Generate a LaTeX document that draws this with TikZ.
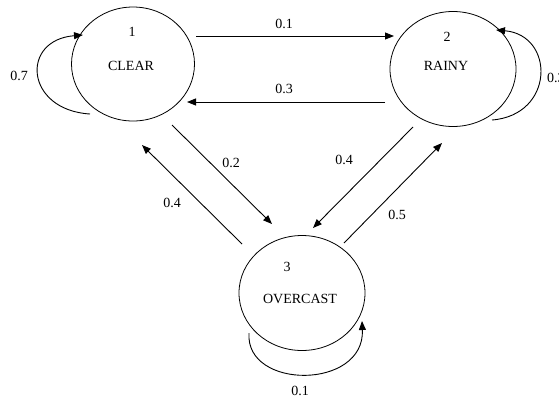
\documentclass[tikz,border=0pt]{standalone}
\usepackage{fontspec}
\setmainfont{Liberation Serif}
\usetikzlibrary{shapes.geometric,arrows.meta}
\tikzset{
  state/.style={draw, ellipse, inner sep=0pt, line width=0.8pt},
  lbl/.style={font=\fontsize{14}{16}\selectfont, inner sep=0pt},
  conn/.style={line width=0.9pt, -{Triangle[length=9pt,width=7pt]}}
}
\begin{document}
\begin{tikzpicture}[x=1pt,y=-1pt]
\useasboundingbox (0,0) rectangle (559,400);
% states
\node[state, minimum width=123pt, minimum height=114pt] (c1) at (133,64) {};
\node[state, minimum width=126pt, minimum height=115pt] (c2) at (453,69) {};
\node[state, minimum width=126pt, minimum height=115pt] (c3) at (302,293) {};
\node[lbl] (n1) at (132,32) {1};
\node[lbl] (t1) at (131,66) {CLEAR};
\node[lbl] (n2) at (447,37) {2};
\node[lbl] (t2) at (446,66) {RAINY};
\node[lbl] (n3) at (287,267) {3};
\node[lbl] (t3) at (300,299) {OVERCAST};
% endpoints
\coordinate (a12s) at (196,36);  \coordinate (a12e) at (394,36);
\coordinate (a21s) at (385,102); \coordinate (a21e) at (187,102);
\coordinate (a13s) at (172,125); \coordinate (a13e) at (272,224);
\coordinate (a31s) at (242,244); \coordinate (a31e) at (142,145);
\coordinate (a23s) at (413,127); \coordinate (a23e) at (313,228);
\coordinate (a32s) at (344,243); \coordinate (a32e) at (442,143);
\coordinate (l1s) at (90,114);   \coordinate (l1e) at (83,35);
\coordinate (l2s) at (492,120);  \coordinate (l2e) at (496,30);
\coordinate (l3s) at (249,333);  \coordinate (l3e) at (362,321);
% connectors
\draw[conn] (a12s) -- (a12e);
\draw[conn] (a21s) -- (a21e);
\draw[conn] (a13s) -- (a13e);
\draw[conn] (a31s) -- (a31e);
\draw[conn] (a23s) -- (a23e);
\draw[conn] (a32s) -- (a32e);
\draw[conn] (l1s) .. controls (25,110) and (20,40) .. (l1e);
\draw[conn] (l2s) .. controls (555,115) and (555,35) .. (l2e);
\draw[conn] (l3s) .. controls (245,390) and (365,390) .. (l3e);
% labels
\node[lbl] (p12) at (284,24) {0.1};
\node[lbl] (p21) at (284,89) {0.3};
\node[lbl] (p13) at (231,163) {0.2};
\node[lbl] (p31) at (172,203) {0.4};
\node[lbl] (p23) at (344,160) {0.4};
\node[lbl] (p32) at (397,215) {0.5};
\node[lbl] (p11) at (19,76) {0.7};
\node[lbl, anchor=west] (p22) at (547,78) {0.3};
\node[lbl] (p33) at (300,391) {0.1};
\end{tikzpicture}
\end{document}
